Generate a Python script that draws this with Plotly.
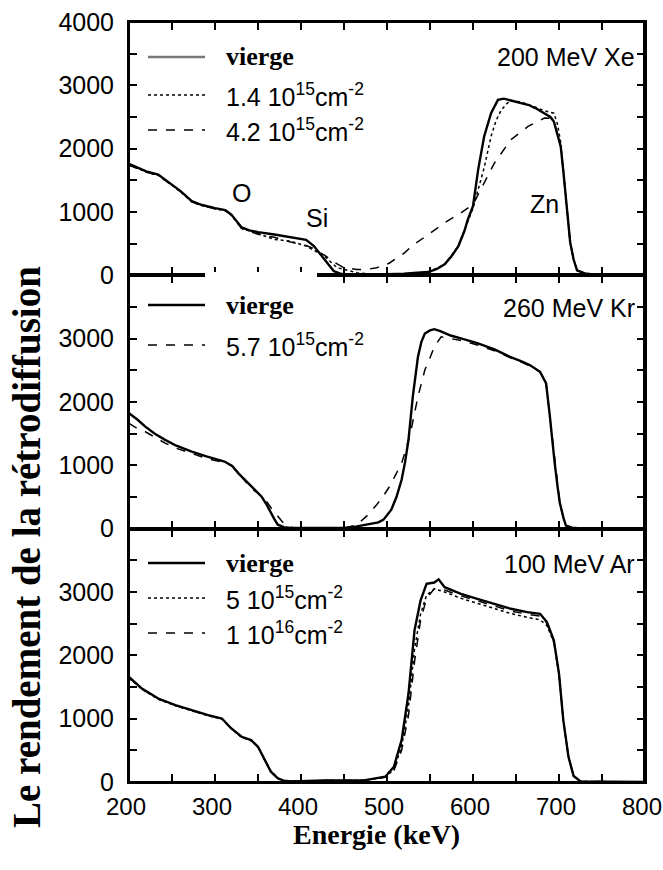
import plotly.graph_objects as go

# ---------------- data ----------------
# Panel 1 : 200 MeV Xe
xe_vierge_E = [200, 210, 220, 234, 245, 260, 273, 285, 300, 312, 319, 325, 331, 340, 350, 369, 388, 400, 406, 415, 421, 427, 433, 438, 445, 450, 470, 500, 520, 535, 548, 558, 567, 575, 583, 590, 594, 600, 606, 613, 621, 629, 636, 644, 654, 664, 674, 683, 690, 694, 698, 702, 705, 708, 711, 713, 717, 721, 730, 740, 760, 800]
xe_vierge_Y = [1760, 1700, 1640, 1590, 1480, 1330, 1170, 1110, 1060, 1030, 960, 850, 756, 710, 682, 645, 603, 580, 560, 462, 360, 252, 140, 68, 30, 15, 5, 15, 25, 40, 52, 100, 173, 300, 462, 700, 882, 1092, 1670, 2194, 2560, 2770, 2790, 2760, 2730, 2693, 2630, 2560, 2500, 2430, 2250, 2036, 1650, 1250, 850, 520, 250, 79, 30, 15, 5, 0]

xe_d14_E = [200, 210, 220, 234, 245, 260, 273, 285, 300, 312, 319, 325, 331, 340, 350, 369, 388, 406, 415, 427, 442, 455, 465, 480, 500, 520, 548, 567, 583, 594, 600, 606, 613, 621, 627, 633, 640, 644, 654, 664, 674, 683, 694, 698, 702, 705, 708, 711, 713, 717, 721, 730, 740, 760, 800]
xe_d14_Y = [1750, 1690, 1630, 1580, 1470, 1320, 1160, 1100, 1050, 1020, 950, 840, 740, 700, 660, 567, 540, 462, 400, 304, 120, 70, 42, 20, 15, 25, 52, 173, 462, 850, 1060, 1354, 1700, 2194, 2450, 2614, 2720, 2760, 2740, 2700, 2650, 2600, 2560, 2400, 2100, 1650, 1250, 850, 520, 250, 79, 30, 15, 5, 0]

xe_d42_E = [200, 210, 220, 234, 245, 260, 273, 285, 300, 312, 319, 325, 331, 340, 350, 369, 388, 400, 406, 415, 427, 442, 450, 465, 475, 488, 495, 503, 509, 520, 529, 548, 567, 586, 600, 613, 625, 644, 664, 683, 690, 694, 698, 702, 705, 708, 711, 713, 717, 721, 730, 740, 760, 800]
xe_d42_Y = [1740, 1690, 1630, 1580, 1470, 1320, 1160, 1100, 1050, 1020, 950, 840, 740, 690, 650, 600, 520, 480, 470, 420, 320, 180, 120, 94, 90, 120, 150, 195, 252, 350, 462, 645, 829, 987, 1118, 1460, 1775, 2142, 2351, 2483, 2480, 2430, 2250, 2036, 1650, 1250, 850, 520, 250, 79, 30, 15, 5, 0]

# Panel 2 : 260 MeV Kr
kr_vierge_E = [200, 210, 219, 230, 242, 255, 273, 290, 311, 320, 327, 335, 342, 350, 354, 360, 365, 369, 373, 380, 388, 420, 450, 465, 480, 490, 496, 505, 511, 517, 521, 525, 530, 536, 540, 544, 550, 555, 562, 574, 590, 605, 625, 643, 655, 666, 678, 685, 689, 692, 695, 698, 701, 705, 708, 715, 730, 800]
kr_vierge_Y = [1822, 1720, 1611, 1500, 1402, 1310, 1218, 1140, 1060, 990, 877, 770, 666, 560, 509, 380, 247, 150, 63, 25, 10, 5, 10, 37, 80, 100, 142, 300, 500, 772, 1050, 1402, 2084, 2714, 2950, 3082, 3130, 3150, 3120, 3050, 2990, 2930, 2830, 2714, 2650, 2583, 2478, 2294, 1822, 1400, 1034, 700, 404, 180, 50, 15, 0, 0]

kr_d57_E = [200, 210, 219, 230, 242, 255, 273, 290, 311, 320, 327, 335, 342, 350, 358, 365, 373, 381, 390, 400, 450, 465, 476, 482, 488, 495, 503, 510, 517, 523, 528, 536, 544, 550, 555, 563, 574, 590, 605, 625, 643, 655, 666, 678, 685, 689, 692, 695, 698, 701, 705, 708, 715, 730, 800]
kr_d57_Y = [1664, 1580, 1530, 1440, 1350, 1270, 1190, 1110, 1040, 990, 880, 760, 640, 560, 470, 330, 194, 63, 20, 5, 5, 60, 194, 280, 378, 500, 666, 850, 1034, 1300, 1560, 2084, 2504, 2700, 2871, 3030, 3000, 2960, 2900, 2810, 2700, 2640, 2570, 2470, 2290, 1822, 1400, 1034, 700, 404, 180, 50, 15, 0, 0]

# Panel 3 : 100 MeV Ar
ar_vierge_E = [200, 215, 234, 254, 273, 292, 308, 319, 331, 342, 350, 358, 365, 373, 380, 388, 427, 473, 490, 498, 508, 517, 525, 532, 539, 546, 555, 560, 567, 586, 605, 624, 644, 663, 678, 686, 694, 700, 705, 711, 717, 725, 800]
ar_vierge_Y = [1658, 1475, 1318, 1213, 1134, 1055, 1003, 845, 714, 661, 556, 346, 162, 58, 20, 10, 25, 25, 60, 84, 241, 661, 1397, 2394, 2866, 3129, 3150, 3200, 3076, 2971, 2893, 2814, 2735, 2682, 2656, 2524, 2236, 1712, 976, 398, 95, 10, 0]

ar_d5e15_E = [200, 215, 234, 254, 273, 292, 308, 319, 331, 342, 350, 358, 365, 373, 380, 388, 427, 473, 490, 498, 508, 517, 525, 532, 539, 546, 555, 567, 586, 605, 624, 644, 663, 678, 686, 694, 700, 705, 711, 717, 725, 800]
ar_d5e15_Y = [1640, 1465, 1305, 1205, 1125, 1045, 995, 840, 705, 650, 550, 350, 170, 62, 20, 10, 25, 25, 55, 75, 200, 560, 1200, 2100, 2650, 2950, 3050, 3000, 2900, 2820, 2740, 2660, 2600, 2560, 2470, 2200, 1700, 976, 398, 95, 10, 0]

ar_d1e16_E = [200, 215, 234, 254, 273, 292, 308, 319, 331, 342, 350, 358, 365, 373, 380, 388, 427, 473, 490, 498, 508, 517, 525, 532, 539, 546, 555, 567, 586, 605, 624, 644, 663, 678, 686, 694, 700, 705, 711, 717, 725, 800]
ar_d1e16_Y = [1645, 1470, 1310, 1208, 1128, 1050, 998, 842, 710, 655, 552, 350, 168, 60, 20, 10, 25, 25, 55, 75, 180, 500, 1050, 1900, 2550, 2900, 3050, 3030, 2940, 2860, 2780, 2700, 2650, 2620, 2500, 2220, 1700, 976, 398, 95, 10, 0]

# tick values
x_major_ticks = [200, 300, 400, 500, 600, 700, 800]
y_major_ticks_top = [0, 1000, 2000, 3000, 4000]
y_major_ticks = [0, 1000, 2000, 3000]

panel_labels = ["200 MeV Xe", "260 MeV Kr", "100 MeV Ar"]
legend_xe = ["vierge", "1.4 10<sup>15</sup>cm<sup>-2</sup>", "4.2 10<sup>15</sup>cm<sup>-2</sup>"]
legend_kr = ["vierge", "5.7 10<sup>15</sup>cm<sup>-2</sup>"]
legend_ar = ["vierge", "5 10<sup>15</sup>cm<sup>-2</sup>", "1 10<sup>16</sup>cm<sup>-2</sup>"]
element_labels = [("O", 331, 1307), ("Si", 419, 913), ("Zn", 683, 1134)]

# ---------------- figure ----------------
W, H = 663, 870
# plot frame in window pixels: x 129..645, y 22..782
ML, MR, MT, MB = 129, 663 - 645, 22, 870 - 782
PW = W - ML - MR
PH = H - MT - MB

def px(p):  # window x pixel -> paper fraction
    return (p - ML) / PW

def py(p):  # window y pixel -> paper fraction
    return (H - MB - p) / PH

SANS = "Arial, 'Liberation Sans', Helvetica, sans-serif"
SERIF = "'Times New Roman', 'Liberation Serif', Times, serif"

solid = dict(color="black", width=2.4)
dotted = dict(color="black", width=1.5, dash="dot")
dashed = dict(color="black", width=1.5, dash="dash")

fig = go.Figure()
fig.add_trace(go.Scatter(x=xe_vierge_E, y=xe_vierge_Y, mode="lines", line=solid, xaxis="x", yaxis="y", showlegend=False))
fig.add_trace(go.Scatter(x=xe_d14_E, y=xe_d14_Y, mode="lines", line=dotted, xaxis="x", yaxis="y", showlegend=False))
fig.add_trace(go.Scatter(x=xe_d42_E, y=xe_d42_Y, mode="lines", line=dashed, xaxis="x", yaxis="y", showlegend=False))

fig.add_trace(go.Scatter(x=kr_vierge_E, y=kr_vierge_Y, mode="lines", line=solid, xaxis="x2", yaxis="y2", showlegend=False))
fig.add_trace(go.Scatter(x=kr_d57_E, y=kr_d57_Y, mode="lines", line=dashed, xaxis="x2", yaxis="y2", showlegend=False))

fig.add_trace(go.Scatter(x=ar_vierge_E, y=ar_vierge_Y, mode="lines", line=solid, xaxis="x3", yaxis="y3", showlegend=False))
fig.add_trace(go.Scatter(x=ar_d5e15_E, y=ar_d5e15_Y, mode="lines", line=dotted, xaxis="x3", yaxis="y3", showlegend=False))
fig.add_trace(go.Scatter(x=ar_d1e16_E, y=ar_d1e16_Y, mode="lines", line=dashed, xaxis="x3", yaxis="y3", showlegend=False))

minor_x = dict(dtick=50, tick0=200, ticks="inside", ticklen=8, tickwidth=1.5, tickcolor="black", showgrid=False)
minor_y = dict(dtick=500, tick0=0, ticks="inside", ticklen=8, tickwidth=1.5, tickcolor="black", showgrid=False)

common_x = dict(range=[200, 800], tickmode="array", tickvals=x_major_ticks, ticks="inside",
                ticklen=8, tickwidth=1.5, tickcolor="black", showline=True, linecolor="black",
                linewidth=2, mirror="allticks", showgrid=False, zeroline=False, minor=minor_x,
                ticklabeloverflow="allow", automargin=False,
                tickfont=dict(family=SANS, size=24, color="black"))
common_y = dict(range=[0, 4000], tickmode="array", ticks="inside", ticklen=8, tickwidth=1.5,
                tickcolor="black", showline=True, linecolor="black", linewidth=2, mirror="all",
                showgrid=False, zeroline=False, ticklabelstandoff=8, minor=minor_y,
                ticklabeloverflow="allow", automargin=False,
                tickfont=dict(family=SANS, size=25, color="black"))

third = 1 / 3
fig.update_layout(
    width=W, height=H,
    margin=dict(l=ML, r=MR, t=MT, b=MB, autoexpand=False),
    paper_bgcolor="white", plot_bgcolor="white",
    hovermode=False,
    xaxis=dict(common_x, anchor="y", showticklabels=False),
    xaxis2=dict(common_x, anchor="y2", showticklabels=False, matches="x"),
    xaxis3=dict(common_x, anchor="y3", ticklabelstandoff=2, ticklabelshift=-3, matches="x"),
    yaxis=dict(common_y, domain=[2 * third, 1], anchor="x", tickvals=y_major_ticks_top),
    yaxis2=dict(common_y, domain=[third, 2 * third], anchor="x2", tickvals=y_major_ticks),
    yaxis3=dict(common_y, domain=[0, third], anchor="x3", tickvals=y_major_ticks),
    showlegend=False,
)

annotations = []
shapes = []

# frame of each panel, in paper coordinates (not clipped by the plot area)
for y0, y1 in [(2 * third, 1), (third, 2 * third), (0, third)]:
    shapes.append(dict(type="rect", xref="paper", yref="paper", x0=0, x1=1, y0=y0, y1=y1,
                       line=dict(color="black", width=2), fillcolor="rgba(0,0,0,0)", layer="above"))
# right border reinforced just inside the frame
shapes.append(dict(type="line", xref="paper", yref="paper", x0=px(644), x1=px(644), y0=0, y1=1,
                   line=dict(color="black", width=2), layer="above"))

# element labels in panel 1
for txt, e, yv in element_labels:
    annotations.append(dict(text=txt, x=e, y=yv, xref="x", yref="y", showarrow=False,
                            font=dict(family=SANS, size=25, color="black")))

# panel labels
for lab, ypix in zip(panel_labels, [57, 308, 564]):
    annotations.append(dict(text=lab, x=px(637), y=py(ypix), xref="paper", yref="paper",
                            xanchor="right", yanchor="middle", showarrow=False,
                            font=dict(family=SANS, size=25, color="black")))

# white patch over the panel 1 / panel 2 border behind the second "vierge"
shapes.append(dict(type="rect", xref="paper", yref="paper", x0=px(205), x1=px(317),
                   y0=py(318), y1=py(272), fillcolor="white", line=dict(width=0), layer="above"))

# legends (sample lines + texts)
def add_legend(rows, styles, ypixels, sample_colors):
    for txt, st, yp, col in zip(rows, styles, ypixels, sample_colors):
        ln = dict(st)
        ln["color"] = col
        shapes.append(dict(type="line", xref="paper", yref="paper", x0=px(148), x1=px(205),
                           y0=py(yp), y1=py(yp), line=ln, layer="above"))
        if txt == "vierge":
            font = dict(family=SERIF, size=26, color="black")
            label = "<b>vierge</b>"
        else:
            font = dict(family=SANS, size=25, color="black")
            label = txt
        annotations.append(dict(text=label, x=px(224), y=py(yp), xref="paper", yref="paper",
                                xanchor="left", yanchor="middle", showarrow=False, font=font))

add_legend(legend_xe, [dict(width=2.4), dict(width=1.5, dash="dot"), dict(width=1.5, dash="dash")],
           [57, 95, 130], ["#777777", "black", "black"])
add_legend(legend_kr, [dict(width=2.4), dict(width=1.5, dash="dash")], [305, 345], ["black", "black"])
add_legend(legend_ar, [dict(width=2.4), dict(width=1.5, dash="dot"), dict(width=1.5, dash="dash")],
           [563, 598, 633], ["black", "black", "black"])

# axis titles
annotations.append(dict(text="<b>Energie (keV)</b>", x=px(376), y=py(834), xref="paper", yref="paper",
                        xanchor="center", yanchor="middle", showarrow=False,
                        font=dict(family=SERIF, size=28, color="black")))
annotations.append(dict(text="<b>Le rendement de la rétrodiffusion</b>", x=px(26), y=py(547),
                        xref="paper", yref="paper", xanchor="center", yanchor="middle",
                        textangle=-90, showarrow=False,
                        font=dict(family=SERIF, size=39, color="black")))

fig.update_layout(annotations=annotations, shapes=shapes)

# the page body margin is removed so that the 663x870 figure fills the window exactly
fig.write_html("out.html",
               config={"displayModeBar": False},
               post_script="document.documentElement.style.overflow='hidden';"
                           "document.body.style.margin='0';document.body.style.overflow='hidden';")
